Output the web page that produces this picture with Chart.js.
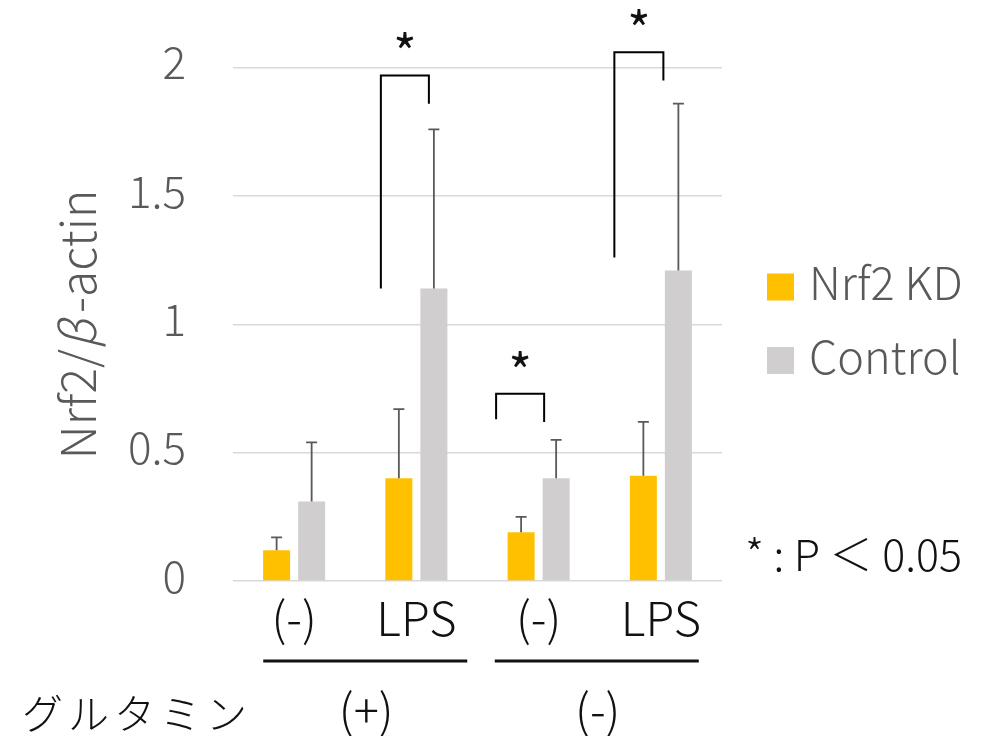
<!DOCTYPE html>
<html>
<head>
<meta charset="utf-8">
<script src="https://cdn.jsdelivr.net/npm/chart.js@4/dist/chart.umd.min.js"></script>
<style>
  html, body { margin: 0; padding: 0; background: #ffffff; }
  #wrap { width: 997px; height: 736px; }
</style>
</head>
<body>
<div id="wrap"><canvas id="c" width="997" height="736"></canvas></div>
<script>
// ---- data ----
const categories = ['(-)', 'LPS', '(-)', 'LPS'];
const seriesNames = ['Nrf2 KD', 'Control'];
const kdMeans = [0.12, 0.40, 0.19, 0.41];
const kdErrors = [0.05, 0.27, 0.06, 0.21];
const controlMeans = [0.31, 1.14, 0.40, 1.21];
const controlErrors = [0.23, 0.62, 0.15, 0.65];
const yTicks = [0, 0.5, 1, 1.5, 2];
const glutamineLabel = 'グルタミン';
const glutamineGroups = ['(+)', '(-)'];
const significanceNote = '* : P ＜ 0.05';
// significance brackets (category index, bracket top, left foot, right foot)
const bracketCategory = [1, 2, 3];
const bracketTop = [1.97, 0.73, 2.06];
const bracketLeftFoot = [1.14, 0.63, 1.26];
const bracketRightFoot = [1.86, 0.62, 1.95];

// ---- styles ----
const FONT = '"Noto Sans CJK JP", "Noto Sans", sans-serif';
const W = '300 ';
const GREY_TEXT = '#595959';
const KD_COLOR = '#FFC000';
const CTRL_COLOR = '#D0CECE';
// horizontal nudges of the bracket legs from the bar centres (px)
const bracketLeftShift = [-18, -25, -29];
const bracketRightShift = [-5, -12, -15];

const errorBars = {
  id: 'errorBars',
  afterDatasetsDraw(chart) {
    const ctx = chart.ctx;
    const y = chart.scales.y;
    const errs = [kdErrors, controlErrors];
    ctx.save();
    ctx.strokeStyle = '#595959';
    ctx.lineWidth = 1.8;
    chart.data.datasets.forEach((ds, di) => {
      const meta = chart.getDatasetMeta(di);
      meta.data.forEach((bar, i) => {
        const top = y.getPixelForValue(ds.data[i] + errs[di][i]);
        ctx.beginPath();
        ctx.moveTo(bar.x, bar.y);
        ctx.lineTo(bar.x, top);
        ctx.moveTo(bar.x - 5.5, top);
        ctx.lineTo(bar.x + 5.5, top);
        ctx.stroke();
      });
    });
    ctx.restore();
  }
};

const annotations = {
  id: 'annotations',
  afterDraw(chart) {
    const ctx = chart.ctx;
    const x = chart.scales.x;
    const y = chart.scales.y;
    const kdMeta = chart.getDatasetMeta(0);
    const ctMeta = chart.getDatasetMeta(1);
    ctx.save();

    // significance brackets with asterisks
    ctx.strokeStyle = '#000000';
    ctx.lineWidth = 2;
    ctx.fillStyle = '#111111';
    ctx.textAlign = 'center';
    bracketCategory.forEach((c, k) => {
      const xl = kdMeta.data[c].x + bracketLeftShift[k];
      const xr = ctMeta.data[c].x + bracketRightShift[k];
      const yt = y.getPixelForValue(bracketTop[k]);
      ctx.beginPath();
      ctx.moveTo(xl, y.getPixelForValue(bracketLeftFoot[k]));
      ctx.lineTo(xl, yt);
      ctx.lineTo(xr, yt);
      ctx.lineTo(xr, y.getPixelForValue(bracketRightFoot[k]));
      ctx.stroke();
      ctx.font = '50px ' + FONT;
      ctx.textBaseline = 'alphabetic';
      ctx.fillText('*', (xl + xr) / 2, yt - 3);
    });

    // legend
    const legendColors = [KD_COLOR, CTRL_COLOR];
    ctx.font = W + '45px ' + FONT;
    ctx.textAlign = 'left';
    ctx.textBaseline = 'middle';
    seriesNames.forEach((name, i) => {
      const cy = 287 + i * 73.5;
      ctx.fillStyle = legendColors[i];
      ctx.fillRect(767, cy - 13.5, 27, 27);
      ctx.fillStyle = GREY_TEXT;
      ctx.fillText(name, 809, cy - 4);
    });

    // significance note
    ctx.fillStyle = '#111111';
    ctx.font = W + '43px ' + FONT;
    ctx.fillText(significanceNote, 745, 555);

    // y axis title
    ctx.save();
    ctx.translate(78, y.getPixelForValue(1));
    ctx.rotate(-Math.PI / 2);
    ctx.fillStyle = GREY_TEXT;
    const partA = 'Nrf2/', partB = 'β', partC = '-actin';
    const size = 48;
    ctx.font = W + size + 'px ' + FONT;
    const wA = ctx.measureText(partA).width;
    const wC = ctx.measureText(partC).width;
    ctx.font = 'italic ' + W + size + 'px ' + FONT;
    const wB = ctx.measureText(partB).width + 7;
    const total = wA + wB + wC;
    let tx = -total / 2;
    ctx.font = W + size + 'px ' + FONT;
    ctx.fillText(partA, tx, 0);
    tx += wA;
    ctx.font = 'italic ' + W + size + 'px ' + FONT;
    ctx.fillText(partB, tx, 0);
    tx += wB;
    ctx.font = W + size + 'px ' + FONT;
    ctx.fillText(partC, tx, 0);
    ctx.restore();

    // glutamine condition rows
    ctx.fillStyle = '#111111';
    ctx.strokeStyle = '#111111';
    ctx.lineWidth = 3;
    const lineY = 661;
    const pairShift = [10, -3];
    [[0, 1], [2, 3]].forEach((pair, g) => {
      const mid = (x.getPixelForValue(pair[0]) + x.getPixelForValue(pair[1])) / 2 + pairShift[g];
      ctx.beginPath();
      ctx.moveTo(mid - 102, lineY);
      ctx.lineTo(mid + 102, lineY);
      ctx.stroke();
      ctx.font = W + '47px ' + FONT;
      ctx.textAlign = 'center';
      ctx.fillText(glutamineGroups[g], mid + 1, 710);
    });
    ctx.font = W + '41px ' + FONT;
    ctx.textAlign = 'left';
    [...glutamineLabel].forEach((ch, i) => {
      ctx.fillText(ch, 22 + i * 46, 713);
    });
    ctx.restore();
  }
};

new Chart(document.getElementById('c'), {
  type: 'bar',
  data: {
    labels: categories,
    datasets: [
      { label: seriesNames[0], data: kdMeans, backgroundColor: KD_COLOR, borderWidth: 0,
        categoryPercentage: 0.573, barPercentage: 0.771 },
      { label: seriesNames[1], data: controlMeans, backgroundColor: CTRL_COLOR, borderWidth: 0,
        categoryPercentage: 0.573, barPercentage: 0.771 }
    ]
  },
  options: {
    responsive: false,
    animation: false,
    devicePixelRatio: 1,
    layout: { padding: { top: 67.7, right: 275, bottom: 0, left: 0 } },
    plugins: { legend: { display: false }, tooltip: { enabled: false } },
    scales: {
      x: {
        grid: { display: false, drawTicks: false },
        border: { display: false },
        ticks: { color: '#111111', font: { family: FONT, size: 47, weight: '300' }, padding: 9 },
        afterFit(s) { s.height = 155; }
      },
      y: {
        min: 0, max: 2,
        afterBuildTicks(s) { s.ticks = yTicks.map(v => ({ value: v })); },
        grid: { color: '#d9d9d9', lineWidth: 1.5, drawTicks: false },
        border: { display: false },
        ticks: { color: GREY_TEXT, font: { family: FONT, size: 44, weight: '300' }, padding: 47,
                 labelOffset: -5, callback: v => String(v) },
        afterFit(s) { s.width = 233; s.paddingTop = 0; s.paddingBottom = 0; }
      }
    }
  },
  plugins: [errorBars, annotations]
});
</script>
</body>
</html>
